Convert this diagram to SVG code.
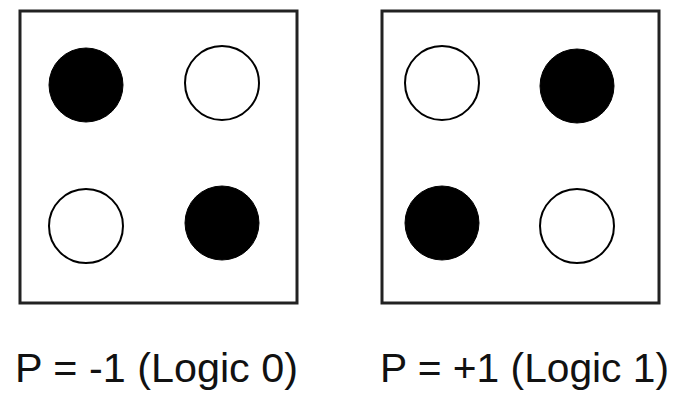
<svg xmlns="http://www.w3.org/2000/svg" width="675" height="395" viewBox="0 0 675 395">
<style>
.box{fill:#fff;stroke:#222;stroke-width:3}
.on{fill:#000;stroke:#000;stroke-width:1}
.off{fill:#fff;stroke:#000;stroke-width:2}
.lbl{font-family:"Liberation Sans",Arial,sans-serif;font-size:41px;fill:#111}
</style>
<rect width="675" height="395" fill="#fff"/>
<g id="panel-logic0">
<rect class="box" x="20" y="11" width="277" height="292"/>
<circle class="on" cx="86" cy="85" r="37"/>
<circle class="off" cx="222" cy="83" r="37"/>
<circle class="off" cx="86" cy="226" r="37"/>
<circle class="on" cx="222" cy="223" r="37"/>
<text class="lbl" x="15" y="382" textLength="283" lengthAdjust="spacingAndGlyphs">P = -1 (Logic 0)</text>
</g>
<g id="panel-logic1">
<rect class="box" x="382" y="11" width="277" height="292"/>
<circle class="off" cx="442" cy="83" r="37"/>
<circle class="on" cx="577" cy="86" r="37"/>
<circle class="on" cx="442" cy="223" r="37"/>
<circle class="off" cx="577" cy="226" r="37"/>
<text class="lbl" x="380" y="382" textLength="289" lengthAdjust="spacingAndGlyphs">P = +1 (Logic 1)</text>
</g>
</svg>
